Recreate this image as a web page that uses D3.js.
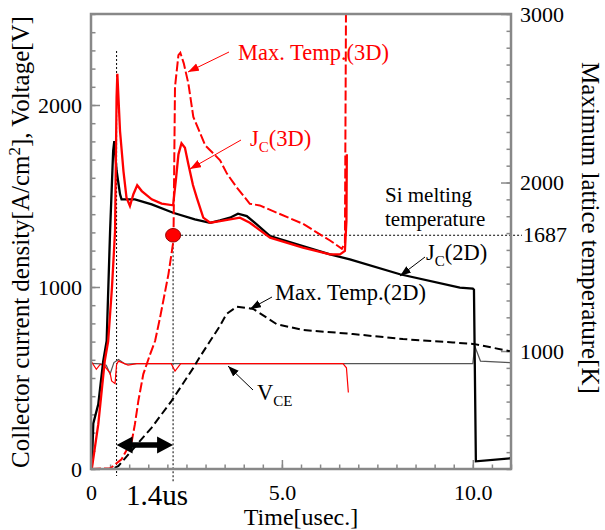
<!DOCTYPE html>
<html>
<head>
<meta charset="utf-8">
<script src="https://cdn.jsdelivr.net/npm/d3@7"></script>
<style>
	body { margin: 0; background: #fff; }
</style>
</head>
<body>
<svg width="605" height="530"></svg>
<script>
// collector current density J_C, 2D simulation [A/cm2]
let jc2dTime = [0, 0.02, 0.06, 0.19, 0.32, 0.41, 0.5, 0.54, 0.58, 0.61, 0.67, 0.76, 0.8, 1.15, 1.59, 2.15, 2.72, 3.12, 3.38, 3.64, 3.85, 4.08, 4.34, 4.69, 5.55, 6.26, 6.78, 8.09, 9.66, 10.0, 10.03, 10.08, 11];
let jc2dValue = [0, 0, 250, 355, 593, 703, 1308, 1527, 1747, 1802, 1640, 1510, 1482, 1482, 1454, 1408, 1372, 1353, 1366, 1381, 1403, 1390, 1344, 1280, 1225, 1179, 1152, 1070, 996, 991, 985, 42, 59];

// collector current density J_C, 3D simulation [A/cm2]
let jc3dTime = [0, 0.02, 0.19, 0.28, 0.36, 0.45, 0.55, 0.63, 0.65, 0.67, 0.69, 0.76, 0.85, 0.93, 1.02, 1.11, 1.21, 1.33, 1.59, 1.85, 2.15, 2.22, 2.29, 2.37, 2.46, 2.55, 2.67, 2.77, 2.94, 3.12, 3.38, 3.64, 3.9, 4.16, 4.69, 5.55, 6.26, 6.52, 6.65, 6.69, 6.7];
let jc3dValue = [0, 0, 245, 429, 593, 703, 1000, 1308, 1674, 2043, 2172, 1857, 1637, 1491, 1445, 1510, 1559, 1527, 1482, 1458, 1449, 1582, 1729, 1790, 1765, 1674, 1560, 1491, 1381, 1353, 1362, 1371, 1381, 1353, 1271, 1216, 1179, 1179, 1198, 1363, 1730];

// collector-emitter voltage [V]
let vce2dTime = [0, 0.25, 0.4, 0.5, 0.6, 0.72, 0.89, 1.2, 10.0, 10.05, 10.2, 11];
let vce2dValue = [580, 578, 570, 522, 585, 602, 577, 579, 579, 676, 593, 584];
let vce3dTime = [0, 0.01, 0.14, 0.24, 0.34, 0.5, 0.54, 0.63, 0.67, 0.72, 0.97, 1.2, 2.1, 2.2, 2.35, 6.6, 6.69, 6.74];
let vce3dValue = [265, 590, 548, 575, 570, 527, 484, 469, 575, 593, 571, 579, 579, 538, 579, 579, 556, 420];

// maximum lattice temperature [K]
let tmax2dTime = [0, 0.55, 0.72, 0.98, 1.59, 2.11, 2.68, 2.85, 3.38, 3.55, 3.82, 4.25, 4.86, 5.55, 6.86, 8.17, 9.48, 10.05, 11];
let tmax2dValue = [300, 298, 318, 387, 546, 704, 900, 965, 1150, 1220, 1263, 1250, 1160, 1125, 1101, 1071, 1051, 1041, 998];
let tmax3dTime = [0, 0.5, 0.55, 0.8, 1.07, 1.15, 1.24, 1.37, 1.55, 1.68, 1.81, 2.03, 2.16, 2.2, 2.29, 2.34, 2.43, 2.55, 2.68, 2.99, 3.38, 3.56, 3.81, 4.16, 4.42, 5.55, 6.26, 6.57, 6.65, 6.68];
let tmax3dValue = [300, 305, 312, 358, 467, 566, 704, 863, 982, 1061, 1200, 1458, 1656, 2568, 2756, 2770, 2707, 2588, 2389, 2221, 2132, 2053, 1973, 1874, 1864, 1755, 1656, 1607, 1640, 3100];

// Si melting point and the two time markers
let meltTemp = 1687;
let markerTimes = [0.67, 2.15];

let xTicks = [0, 5, 10];
let xTickLabels = ["0", "5.0", "10.0"];
let yLeftTicks = [0, 1000, 2000];
let yRightTicks = [1000, 2000, 3000];

let svg = d3.select("svg");
let margin = {top: 14, right: 94, bottom: 61, left: 91};
let width = 605, height = 530;
let gray = "#888";
let serif = "'Times New Roman', 'Liberation Serif', Tinos, serif";

let x = d3.scaleLinear()
	.domain([0, 11])
	.range([margin.left, width - margin.right]);

let yL = d3.scaleLinear()
	.domain([0, 2500])
	.range([height - margin.bottom, margin.top]);

let yR = d3.scaleLinear()
	.domain([300, 3000])
	.range([height - margin.bottom, margin.top]);

let zip = (t, v) => t.map((d, i) => [d, v[i]]);

let defs = svg.append("defs");
defs.append("clipPath").attr("id", "plot")
	.append("rect")
	.attr("x", margin.left).attr("y", margin.top)
	.attr("width", width - margin.left - margin.right)
	.attr("height", height - margin.top - margin.bottom);

["red", "black"].forEach(c => {
	defs.append("marker")
		.attr("id", "head-" + c)
		.attr("markerUnits", "userSpaceOnUse")
		.attr("markerWidth", 12).attr("markerHeight", 10)
		.attr("refX", 11).attr("refY", 4)
		.attr("orient", "auto")
		.append("path")
		.attr("d", "M0,0L11,4L0,8Z")
		.attr("fill", c === "red" ? "#f00" : "#000");
});

// ticks
let tickStyle = g => g
	.call(g => g.select(".domain").remove())
	.call(g => g.selectAll("line").attr("stroke", gray).attr("stroke-width", 1.5))
	.call(g => g.selectAll("text").attr("font-size", 22).attr("fill", "#000"));

svg.append("g")
	.attr("transform", `translate(${margin.left},0)`)
	.call(d3.axisLeft(yL).tickValues(d3.range(0, 2501, 100)).tickSize(-4.5).tickFormat(""))
	.call(tickStyle);
svg.append("g")
	.attr("transform", `translate(${margin.left},0)`)
	.call(d3.axisLeft(yL).tickValues(yLeftTicks).tickSize(-9).tickPadding(9).tickFormat(d3.format("d")))
	.call(tickStyle);

svg.append("g")
	.attr("transform", `translate(${width - margin.right},0)`)
	.call(d3.axisRight(yR).tickValues(d3.range(300, 3001, 100)).tickSize(-4.5).tickFormat(""))
	.call(tickStyle);
svg.append("g")
	.attr("transform", `translate(${width - margin.right},0)`)
	.call(d3.axisRight(yR).tickValues(yRightTicks).tickSize(-10).tickPadding(9).tickFormat(d3.format("d")))
	.call(tickStyle);

svg.append("g")
	.attr("transform", `translate(0,${height - margin.bottom})`)
	.call(d3.axisBottom(x).tickValues(d3.range(0, 11.01, 0.5)).tickSize(-4.5).tickFormat(""))
	.call(tickStyle);
svg.append("g")
	.attr("transform", `translate(0,${height - margin.bottom})`)
	.call(d3.axisBottom(x).tickValues(xTicks).tickSize(-9).tickPadding(15)
		.tickFormat((d, i) => xTickLabels[i]))
	.call(tickStyle);

// melting temperature reference lines
svg.append("line")
	.attr("x1", x(markerTimes[1])).attr("x2", width - margin.right + 11)
	.attr("y1", yR(meltTemp)).attr("y2", yR(meltTemp))
	.attr("stroke", "#000").attr("stroke-width", 1).attr("stroke-dasharray", "2,2");
svg.append("text")
	.attr("x", width - margin.right + 12).attr("y", yR(meltTemp))
	.attr("dy", "0.32em")
	.attr("font-size", 22)
	.text(meltTemp);

svg.append("line")
	.attr("x1", x(markerTimes[0])).attr("x2", x(markerTimes[0]))
	.attr("y1", 51).attr("y2", height - margin.bottom + 7)
	.attr("stroke", "#000").attr("stroke-width", 1).attr("stroke-dasharray", "2,2");
svg.append("line")
	.attr("x1", x(markerTimes[1])).attr("x2", x(markerTimes[1]))
	.attr("y1", yR(meltTemp)).attr("y2", height - margin.bottom + 13)
	.attr("stroke", "#000").attr("stroke-width", 1).attr("stroke-dasharray", "2,2");

// curves
let plot = svg.append("g").attr("clip-path", "url(#plot)");
let lineL = d3.line().x(d => x(d[0])).y(d => yL(d[1]));
let lineR = d3.line().x(d => x(d[0])).y(d => yR(d[1]));

plot.append("path")
	.attr("d", lineL(zip(vce2dTime, vce2dValue)))
	.attr("fill", "none").attr("stroke", "#555").attr("stroke-width", 1.2);
plot.append("path")
	.attr("d", lineL(zip(vce3dTime, vce3dValue)))
	.attr("fill", "none").attr("stroke", "#f00").attr("stroke-width", 1.2);

plot.append("path")
	.attr("d", lineR(zip(tmax2dTime, tmax2dValue)))
	.attr("fill", "none").attr("stroke", "#000").attr("stroke-width", 2)
	.attr("stroke-dasharray", "8,4");

plot.append("path")
	.attr("d", lineL(zip(jc2dTime, jc2dValue)))
	.attr("fill", "none").attr("stroke", "#000").attr("stroke-width", 2.3);

plot.append("path")
	.attr("d", lineR(zip(tmax3dTime, tmax3dValue)))
	.attr("fill", "none").attr("stroke", "#f00").attr("stroke-width", 2)
	.attr("stroke-dasharray", "10,3");

plot.append("path")
	.attr("d", lineL(zip(jc3dTime, jc3dValue)))
	.attr("fill", "none").attr("stroke", "#f00").attr("stroke-width", 2.3);

svg.append("ellipse")
	.attr("cx", x(markerTimes[1])).attr("cy", yR(meltTemp))
	.attr("rx", 7.5).attr("ry", 6.8)
	.attr("fill", "#f00").attr("stroke", "#900").attr("stroke-width", 1);

// frame
svg.append("rect")
	.attr("x", margin.left).attr("y", margin.top)
	.attr("width", width - margin.left - margin.right)
	.attr("height", height - margin.top - margin.bottom)
	.attr("fill", "none").attr("stroke", gray).attr("stroke-width", 2.5);

// 1.4us double arrow
let ax1 = x(markerTimes[0]), ax2 = x(markerTimes[1]), ay = 445;
svg.append("path")
	.attr("d", `M${ax1},${ay}L${ax1 + 16},${ay - 8.5}L${ax1 + 16},${ay - 2.8}L${ax2 - 16},${ay - 2.8}L${ax2 - 16},${ay - 8.5}` +
		`L${ax2},${ay}L${ax2 - 16},${ay + 8.5}L${ax2 - 16},${ay + 2.8}L${ax1 + 16},${ay + 2.8}L${ax1 + 16},${ay + 8.5}Z`)
	.attr("fill", "#000");
svg.append("text")
	.attr("x", 157).attr("y", 505)
	.attr("text-anchor", "middle")
	.attr("font-size", 29)
	.text("1.4us");

// annotations
let arrow = (x1, y1, x2, y2, c) => svg.append("line")
	.attr("x1", x1).attr("y1", y1).attr("x2", x2).attr("y2", y2)
	.attr("stroke", c === "red" ? "#f00" : "#000").attr("stroke-width", 1)
	.attr("marker-end", `url(#head-${c})`);

let label = (px, py, c, main, sub, rest, size) => {
	let t = svg.append("text")
		.attr("x", px).attr("y", py)
		.attr("font-size", size || 22.5)
		.attr("fill", c === "red" ? "#f00" : "#000");
	t.append("tspan").text(main);
	if (sub) {
		t.append("tspan").attr("font-size", 15).attr("dy", 6).text(sub);
		t.append("tspan").attr("dy", -6).text(rest);
	}
	return t;
};

label(238, 60, "red", "Max. Temp.(3D)");
arrow(229, 52, 188, 72, "red");

label(250, 146, "red", "J", "C", "(3D)");
arrow(241, 140, 190, 169, "red");

label(385, 202, "black", "Si melting", null, null, 21);
label(385, 225.5, "black", "temperature", null, null, 21);

label(426, 260, "black", "J", "C", "(2D)");
arrow(425, 257, 400, 276, "black");

label(275, 300, "black", "Max. Temp.(2D)");
arrow(272, 297, 250, 309, "black");

label(257, 400, "black", "V", "CE", "");
arrow(253, 390, 228, 366, "black");

// axis titles
svg.append("text")
	.attr("transform", `translate(${x(5.5)},525)`)
	.attr("text-anchor", "middle")
	.attr("font-size", 24)
	.text("Time[usec.]");

let yTitle = svg.append("text")
	.attr("transform", "translate(29,242) rotate(-90)")
	.attr("text-anchor", "middle")
	.attr("font-size", 25);
yTitle.append("tspan").text("Collector current density[A/cm");
yTitle.append("tspan").attr("font-size", 17).attr("dy", -9).text("2");
yTitle.append("tspan").attr("dy", 9).text("], Voltage[V]");

svg.append("text")
	.attr("transform", "translate(582,228) rotate(90)")
	.attr("text-anchor", "middle")
	.attr("font-size", 25)
	.text("Maximum lattice temperature[K]");

svg.selectAll("text").attr("font-family", serif).style("font-family", serif);
</script>
</body>
</html>
